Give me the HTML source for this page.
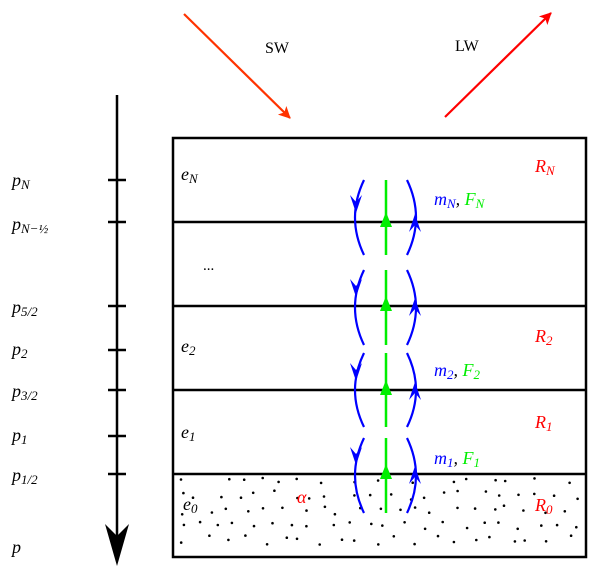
<!DOCTYPE html>
<html><head><meta charset="utf-8"><style>
html,body{margin:0;padding:0;background:#fff;}
svg{display:block;}
.t{font-family:"Liberation Serif",serif;font-style:italic;font-size:18px;}
.s{font-family:"Liberation Serif",serif;font-style:italic;font-size:13px;}
</style></head><body>
<svg id="sv" width="600" height="578" viewBox="0 0 600 578" xmlns="http://www.w3.org/2000/svg">
<defs>
<marker id="ar" markerWidth="12" markerHeight="12" refX="11" refY="6" orient="auto" markerUnits="userSpaceOnUse"><path d="M0,0 L12,6 L0,12 L3,6 z" fill="#ff3300"/></marker>
<marker id="ar2" markerWidth="12" markerHeight="12" refX="11" refY="6" orient="auto" markerUnits="userSpaceOnUse"><path d="M0,0 L12,6 L0,12 L3,6 z" fill="#ff0000"/></marker>
</defs>
<g id="dots" fill="#000"></g>
<rect x="173" y="138" width="413" height="419" fill="none" stroke="#000" stroke-width="2.5"/>
<g stroke="#000" stroke-width="2.5">
<line x1="173" y1="222" x2="586" y2="222"/>
<line x1="173" y1="306" x2="586" y2="306"/>
<line x1="173" y1="390" x2="586" y2="390"/>
<line x1="173" y1="474" x2="586" y2="474"/>
</g>
<g stroke="#000" stroke-width="2.5">
<line x1="117" y1="95" x2="117" y2="545"/>
<line x1="108" y1="180" x2="126" y2="180"/>
<line x1="108" y1="222" x2="126" y2="222"/>
<line x1="108" y1="306" x2="126" y2="306"/>
<line x1="108" y1="350" x2="126" y2="350"/>
<line x1="108" y1="390" x2="126" y2="390"/>
<line x1="108" y1="436" x2="126" y2="436"/>
<line x1="108" y1="474" x2="126" y2="474"/>
</g>
<path d="M105,524 L117,566 L129,524 L117,536 z" fill="#000"/>
<line x1="184" y1="14" x2="290" y2="118" stroke="#ff3300" stroke-width="2.2" marker-end="url(#ar)"/>
<line x1="445" y1="117" x2="551" y2="13" stroke="#ff0000" stroke-width="2.2" marker-end="url(#ar2)"/>
<text x="265" y="53" font-family="Liberation Serif" font-size="16">SW</text>
<text x="455" y="51" font-family="Liberation Serif" font-size="16">LW</text>
<g id="flows"></g>
<g class="t">
<text x="12" y="186">p<tspan class="s" dy="3">N</tspan></text>
<text x="12" y="230">p<tspan class="s" dy="3">N−½</tspan></text>
<text x="12" y="313">p<tspan class="s" dy="3">5/2</tspan></text>
<text x="12" y="355">p<tspan class="s" dy="3">2</tspan></text>
<text x="12" y="397">p<tspan class="s" dy="3">3/2</tspan></text>
<text x="12" y="441">p<tspan class="s" dy="3">1</tspan></text>
<text x="12" y="481">p<tspan class="s" dy="3">1/2</tspan></text>
<text x="12" y="553">p</text>
<text x="181" y="180">e<tspan class="s" dy="3">N</tspan></text>
<text x="181" y="352">e<tspan class="s" dy="3">2</tspan></text>
<text x="181" y="438">e<tspan class="s" dy="3">1</tspan></text>
<text x="183" y="510">e<tspan class="s" dy="3">0</tspan></text>
<text x="297" y="503" fill="#ff0000">α</text>
<text x="535" y="172" fill="#ff0000">R<tspan class="s" dy="3">N</tspan></text>
<text x="535" y="342" fill="#ff0000">R<tspan class="s" dy="3">2</tspan></text>
<text x="535" y="428" fill="#ff0000">R<tspan class="s" dy="3">1</tspan></text>
<text x="535" y="511" fill="#ff0000">R<tspan class="s" dy="3">0</tspan></text>
<text x="434" y="205" fill="#0000ff">m<tspan class="s" dy="3">N</tspan><tspan dy="-3" fill="#000">, </tspan><tspan fill="#00ee00">F</tspan><tspan class="s" dy="3" fill="#00ee00">N</tspan></text>
<text x="434" y="376" fill="#0000ff">m<tspan class="s" dy="3">2</tspan><tspan dy="-3" fill="#000">, </tspan><tspan fill="#00ee00">F</tspan><tspan class="s" dy="3" fill="#00ee00">2</tspan></text>
<text x="434" y="464" fill="#0000ff">m<tspan class="s" dy="3">1</tspan><tspan dy="-3" fill="#000">, </tspan><tspan fill="#00ee00">F</tspan><tspan class="s" dy="3" fill="#00ee00">1</tspan></text>
</g>
<text x="203" y="270" font-family="Liberation Serif" font-size="15">...</text>
</svg>
<script>
var NS="http://www.w3.org/2000/svg";
var d=document.getElementById("dots");
var seed=11;function r(){seed=(seed*16807)%2147483647;return seed/2147483647;}
var row=0;
for(var y=480;y<552;y+=15){row++;for(var x=178+(row%2)*9;x<582;x+=19){
var cx=x+(r()-0.5)*12,cy=y+(r()-0.5)*9;if(cx>582||cx<177||cy>553||cy<478)continue;
var c=document.createElementNS(NS,"circle");c.setAttribute("cx",cx.toFixed(1));c.setAttribute("cy",cy.toFixed(1));c.setAttribute("r","1.3");d.appendChild(c);}}
var f=document.getElementById("flows");var h="";
var segs=[[180,255,222],[270,345,306],[353,427,390],[438,513,474]];
segs.forEach(function(s){var a=s[0],b=s[1],m=s[2];
h+='<path d="M364,'+a+' Q346,'+((a+b)/2)+' 364,'+b+'" fill="none" stroke="#0000ff" stroke-width="2.2"/>';
h+='<path d="M350,'+(m-27)+' L356,'+(m-9)+' L362,'+(m-27)+' L356,'+(m-20)+' z" fill="#0000ff"/>';
h+='<path d="M407,'+a+' Q425,'+((a+b)/2)+' 407,'+b+'" fill="none" stroke="#0000ff" stroke-width="2.2"/>';
h+='<path d="M409,'+(m+10)+' L415,'+(m-8)+' L421,'+(m+10)+' L415,'+(m+3)+' z" fill="#0000ff"/>';
h+='<line x1="386" y1="'+a+'" x2="386" y2="'+b+'" stroke="#00ee00" stroke-width="2.5"/>';
h+='<path d="M380,'+(m+5)+' L386,'+(m-10)+' L392,'+(m+5)+' z" fill="#00ee00"/>';});
f.innerHTML=h;
</script>
</body></html>
